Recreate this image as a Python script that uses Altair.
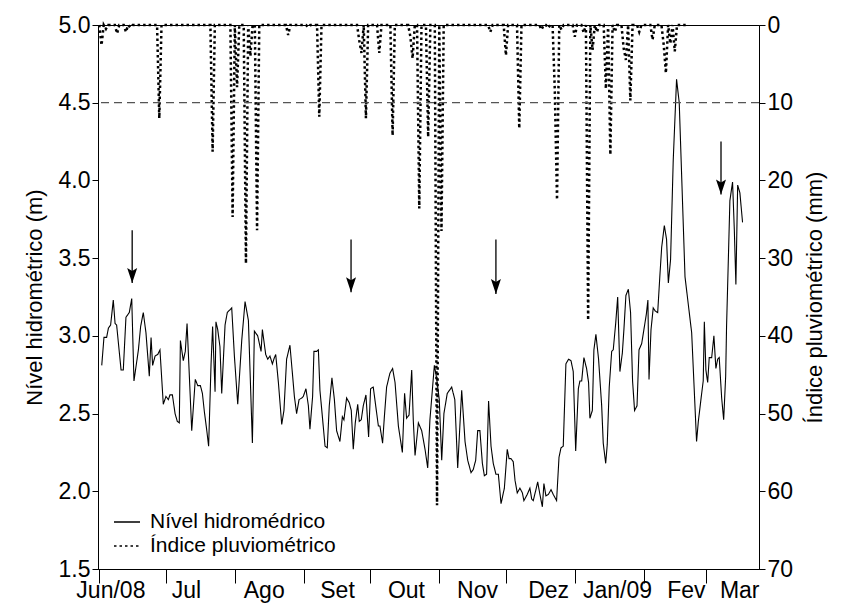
import altair as alt
import pandas as pd

LEVEL_NAME = "Nível hidromédrico"
RAIN_NAME = "Índice pluviométrico"

# Records are counted in days from 1 June 2008 (00:00 UTC).
RECORD_START = "2008-06-01"

# River level readings (m)
level_day = [
    1.1, 2.1, 3.3, 4.1, 5.1, 6.3, 7.1, 7.8, 9.8, 10.8,
    12.0, 13.5, 14.6, 15.6, 17.6, 18.6, 19.8, 21.0, 22.5, 23.3,
    24.0, 25.1, 26.3, 27.3, 28.8, 30.0, 31.1, 31.8, 32.9, 34.1,
    35.1, 36.0, 36.5, 37.8, 38.7, 39.5, 41.6, 43.2, 44.3, 45.5,
    46.4, 47.3, 48.3, 49.2, 50.3, 51.0, 52.1, 52.5, 53.3, 54.3,
    55.1, 56.6, 57.6, 59.6, 60.8, 62.3, 64.1, 65.6, 67.1, 68.9,
    69.8, 71.3, 72.8, 73.4, 74.9, 75.8, 76.8, 77.9, 78.8, 79.4,
    80.6, 82.1, 83.1, 84.3, 85.8, 86.9, 87.8, 88.8, 89.9, 91.1,
    91.8, 93.0, 94.1, 94.8, 96.0, 96.6, 97.8, 98.6, 99.3, 100.4,
    101.6, 102.6, 103.5, 104.7, 105.8, 106.8, 108.3, 109.4, 110.1, 111.3,
    112.5, 113.4, 114.3, 115.2, 116.3, 117.0, 117.9, 118.8, 120.0, 121.2,
    122.1, 123.3, 124.4, 125.6, 126.3, 127.5, 128.3, 129.3, 130.8, 132.0,
    133.1, 134.6, 136.4, 137.4, 138.3, 139.4, 140.6, 141.3, 142.1, 143.6,
    145.1, 146.6, 147.8, 148.8, 150.8, 151.8, 153.0, 154.1, 155.1, 156.6,
    158.6, 160.0, 161.3, 163.1, 164.6, 165.8, 167.3, 168.3, 169.4, 170.3,
    171.3, 172.4, 173.3, 174.3, 175.2, 176.3, 177.3, 178.5, 179.6, 180.8,
    182.3, 183.6, 184.4, 185.3, 186.3, 187.1, 188.1, 189.3, 190.4, 191.1,
    192.6, 193.8, 194.6, 195.3, 196.5, 197.3, 198.3, 199.4, 200.1, 201.0,
    202.1, 203.3, 204.3, 205.8, 206.9, 207.8, 208.8, 210.0, 211.2, 212.3,
    213.3, 214.4, 215.6, 216.3, 217.1, 218.1, 219.3, 220.2, 220.8, 221.9,
    222.6, 223.5, 224.7, 226.1, 226.8, 227.9, 228.6, 229.5, 230.6, 231.3,
    232.4, 233.3, 234.3, 235.4, 236.1, 237.0, 238.1, 239.1, 240.0, 240.9,
    242.0, 242.9, 244.1, 245.1, 246.2, 246.9, 247.4, 248.3, 249.3, 250.2,
    251.3, 252.3, 253.1, 254.3, 255.3, 256.1, 257.1, 258.3, 259.8, 261.0,
    263.6, 266.6, 268.8, 269.6, 271.1, 271.8, 272.3, 273.0, 273.8, 274.5,
    275.6, 276.6, 277.5, 278.3, 279.0, 280.1, 281.0, 281.9, 282.3, 283.1,
    283.8, 285.0, 285.8, 286.5, 287.3, 288.3, 289.5,
]
level_m = [
    2.81, 2.99, 2.99, 3.05, 3.07, 3.23, 3.08, 3.07, 2.78, 2.78,
    3.12, 3.15, 3.24, 2.71, 2.91, 3.06, 3.15, 3.02, 2.74, 2.99,
    2.81, 2.87, 2.88, 2.91, 2.56, 2.61, 2.59, 2.62, 2.62, 2.50,
    2.45, 2.44, 2.97, 2.84, 2.90, 3.08, 2.39, 2.72, 2.68, 2.68,
    2.63, 2.51, 2.40, 2.29, 2.82, 3.06, 2.64, 3.09, 3.04, 2.93,
    2.63, 3.07, 3.15, 3.18, 2.87, 2.56, 2.97, 3.22, 3.10, 2.31,
    3.03, 3.00, 2.90, 3.04, 2.88, 2.85, 2.87, 2.82, 2.86, 2.88,
    2.70, 2.43, 2.52, 2.85, 2.94, 2.76, 2.61, 2.50, 2.59, 2.60,
    2.61, 2.66, 2.55, 2.40, 2.61, 2.90, 2.90, 2.91, 2.65, 2.48,
    2.29, 2.28, 2.55, 2.73, 2.59, 2.39, 2.32, 2.48, 2.46, 2.60,
    2.57, 2.52, 2.27, 2.44, 2.56, 2.45, 2.46, 2.55, 2.62, 2.35,
    2.66, 2.67, 2.55, 2.42, 2.42, 2.31, 2.48, 2.67, 2.76, 2.79,
    2.70, 2.42, 2.25, 2.63, 2.47, 2.49, 2.78, 2.46, 2.23, 2.44,
    2.39, 2.27, 2.15, 2.46, 2.81, 2.73, 2.59, 2.20, 2.50, 2.63,
    2.67, 2.59, 2.15, 2.65, 2.32, 2.20, 2.12, 2.14, 2.20, 2.39,
    2.39, 2.18, 2.10, 2.11, 2.58, 2.29, 2.18, 2.11, 2.11, 1.92,
    2.02, 2.27, 2.21, 2.21, 2.19, 2.07, 1.99, 2.02, 1.99, 1.94,
    1.98, 2.02, 1.95, 1.94, 2.01, 2.06, 1.98, 1.90, 2.05, 1.97,
    1.98, 2.01, 1.98, 1.94, 2.22, 2.28, 2.29, 2.82, 2.85, 2.84,
    2.77, 2.26, 2.66, 2.71, 2.71, 2.86, 2.79, 2.70, 2.47, 2.52,
    2.91, 3.01, 2.85, 2.55, 2.31, 2.18, 2.30, 2.67, 2.90, 2.91,
    3.08, 3.25, 2.77, 2.89, 3.04, 3.26, 3.30, 3.15, 2.71, 2.52,
    2.55, 2.91, 2.95, 3.04, 3.14, 3.23, 2.72, 3.04, 3.18, 3.16,
    3.15, 3.39, 3.57, 3.71, 3.62, 3.34, 3.49, 4.13, 4.65, 4.50,
    3.38, 3.02, 2.32, 2.45, 2.63, 2.71, 3.09, 2.78, 2.70, 2.86,
    2.86, 3.00, 2.79, 2.85, 2.86, 2.60, 2.46, 2.74, 3.06, 3.49,
    3.87, 3.99, 3.68, 3.33, 3.97, 3.92, 3.73,
]
assert len(level_day) == len(level_m)

# Daily rainfall (mm); days not listed were dry
rain_day = [
    1, 3, 8, 12, 14, 27, 51, 60, 62, 66, 68, 71, 85, 94, 99,
    117, 118, 120, 126, 132, 140, 141, 144, 148, 152, 154,
    176, 183, 189, 199, 202, 205, 206, 208, 214, 218, 220,
    222, 224, 228, 230, 232, 236, 237, 239, 243, 249, 254,
    255, 257, 259,
]
rain_mm = [
    2.6, 0.5, 1.1, 0.9, 0.3, 12.0, 16.3, 24.7, 8.0, 30.7, 4.0, 26.4, 1.3, 0.3, 11.8,
    2.0, 3.6, 12.0, 3.6, 14.2, 1.5, 4.3, 23.6, 14.4, 61.8, 26.5,
    0.9, 3.9, 13.3, 0.6, 0.4, 8.4, 22.5, 0.6, 1.5, 1.0, 38.0,
    3.2, 0.9, 8.2, 16.7, 0.9, 3.0, 4.5, 9.7, 0.9, 1.9, 2.5,
    6.2, 2.4, 3.4,
]
rain_last_day = 264

# Sampling campaigns (arrows, in level units)
arrow_day = [14.8, 113.3, 178.5, 279.8]
arrow_from = [3.68, 3.62, 3.62, 4.25]
arrow_to = [3.34, 3.28, 3.27, 3.91]

threshold_mm = 10

month_starts = [
    "2008-06-01", "2008-07-01", "2008-08-01", "2008-09-01", "2008-10-01",
    "2008-11-01", "2008-12-01", "2009-01-01", "2009-02-01", "2009-03-01",
]
month_labels = ["Jun/08", "Jul", "Ago", "Set", "Out", "Nov", "Dez", "Jan/09", "Fev", "Mar"]
month_label_at = [
    "2008-06-06", "2008-07-10", "2008-08-14", "2008-09-16", "2008-10-17",
    "2008-11-18", "2008-12-20", "2009-01-20", "2009-02-20", "2009-03-16",
]
x_range = ["2008-05-31T10:00:00", "2009-03-24T21:36:00"]

level_ticks = [1.5, 2.0, 2.5, 3.0, 3.5, 4.0, 4.5, 5.0]
rain_ticks = [0, 10, 20, 30, 40, 50, 60, 70]

FONT = "Liberation Sans"
DAY_MS = 86_400_000


def stamp(s):
    return int(pd.Timestamp(s, tz="UTC").value // 1_000_000)


START_MS = stamp(RECORD_START)


def day_to_ms(d):
    return START_MS + int(round(d * DAY_MS))


level_df = pd.DataFrame({
    "t": [day_to_ms(d) for d in level_day],
    "nivel": level_m,
    "serie": LEVEL_NAME,
})

rain_lookup = dict(zip(rain_day, rain_mm))
rain_days = list(range(0, rain_last_day + 1))
rain_df = pd.DataFrame({
    "t": [day_to_ms(d) for d in rain_days],
    "mm": [rain_lookup.get(d, 0.0) for d in rain_days],
    "serie": RAIN_NAME,
})

arrow_df = pd.DataFrame({
    "t": [day_to_ms(d) for d in arrow_day],
    "de": arrow_from,
    "ate": arrow_to,
})
limit_df = pd.DataFrame({"mm": [threshold_mm]})

month_names = [""] * 12
for s, lab in zip(month_label_at, month_labels):
    month_names[pd.Timestamp(s).month - 1] = lab
label_expr = "[" + ",".join(f"'{n}'" for n in month_names) + "][utcmonth(datum.value)]"

x_scale = alt.Scale(type="utc", domain=[stamp(x_range[0]), stamp(x_range[1])])
tick_axis = alt.Axis(
    values=[stamp(s) for s in month_starts], labels=False, tickSize=14,
    title=None, orient="bottom", grid=False,
)
label_axis = alt.Axis(
    values=[stamp(s) for s in month_label_at], labelExpr=label_expr,
    ticks=False, domain=False, labelPadding=10, title=None, orient="bottom",
    grid=False, labelOverlap=False, labelFlush=False, labelFontSize=23,
)

level_scale = alt.Scale(domain=[1.5, 5.0], nice=False, zero=False)
level_axis = alt.Axis(
    values=level_ticks, format=".1f", title="Nível hidrométrico (m)",
    orient="left", grid=False, tickSize=6, titlePadding=12,
)
rain_scale = alt.Scale(domain=[0, 70], reverse=True, nice=False, zero=False)
rain_axis = alt.Axis(
    values=rain_ticks, title="Índice pluviométrico (mm)", orient="right",
    grid=False, tickSize=6, titleAngle=270, titleBaseline="top", titlePadding=12,
)

dash_scale = alt.Scale(domain=[LEVEL_NAME, RAIN_NAME], range=[[1, 0], [2.5, 3]])
legend = alt.Legend(
    title=None, orient="none", legendX=15, legendY=483, symbolType="stroke",
    symbolSize=676, symbolStrokeWidth=1.6, symbolStrokeColor="black",
    labelFontSize=21, labelOffset=9, labelLimit=0, rowPadding=-3, padding=0,
)

level_line = alt.Chart(level_df).mark_line(color="black", strokeWidth=1.1).encode(
    x=alt.X("t:T", scale=x_scale, axis=tick_axis),
    y=alt.Y("nivel:Q", scale=level_scale, axis=level_axis),
    strokeDash=alt.StrokeDash("serie:N", scale=dash_scale, legend=legend),
)

shafts = alt.Chart(arrow_df).mark_rule(color="black", strokeWidth=1.3).encode(
    x=alt.X("t:T", scale=x_scale, axis=tick_axis),
    y=alt.Y("de:Q", scale=level_scale, axis=level_axis),
    y2="ate:Q",
)

HEAD_PATH = "M0,1L-0.667,-1L0,-0.6L0.667,-1Z"
heads = alt.Chart(arrow_df).mark_point(
    shape=HEAD_PATH, size=225, filled=True, color="black", opacity=1,
    strokeWidth=0, yOffset=-7.5,
).encode(
    x=alt.X("t:T", scale=x_scale, axis=tick_axis),
    y=alt.Y("ate:Q", scale=level_scale, axis=level_axis),
)

rain_line = alt.Chart(rain_df).mark_line(color="black", strokeWidth=2.5).encode(
    x=alt.X("t:T", scale=x_scale, axis=label_axis),
    y=alt.Y("mm:Q", scale=rain_scale, axis=rain_axis),
    strokeDash=alt.StrokeDash("serie:N", scale=dash_scale, legend=legend),
)

limit = alt.Chart(limit_df).mark_rule(
    color="#555555", strokeDash=[8, 5], strokeWidth=1.3
).encode(y=alt.Y("mm:Q", scale=rain_scale, axis=rain_axis))

level_group = alt.layer(level_line, shafts, heads)
rain_group = alt.layer(rain_line, limit)

chart = (
    alt.layer(level_group, rain_group)
    .resolve_scale(y="independent")
    .resolve_axis(x="independent")
    .properties(
        width=661,
        height=544,
        autosize=alt.AutoSizeParams(type="none"),
        padding={"left": 98, "top": 25, "right": 83, "bottom": 37},
    )
    .configure(font=FONT)
    .configure_axis(
        labelFont=FONT, titleFont=FONT, labelFontSize=23, titleFontSize=22,
        titleFontWeight="normal", labelColor="black", titleColor="black",
        domainColor="black", tickColor="black", domainWidth=1, tickWidth=1,
    )
    .configure_legend(labelFont=FONT, labelColor="black")
    .configure_view(stroke="black", strokeWidth=1)
)

chart.save("out.html", embed_options={"renderer": "svg", "actions": False})
